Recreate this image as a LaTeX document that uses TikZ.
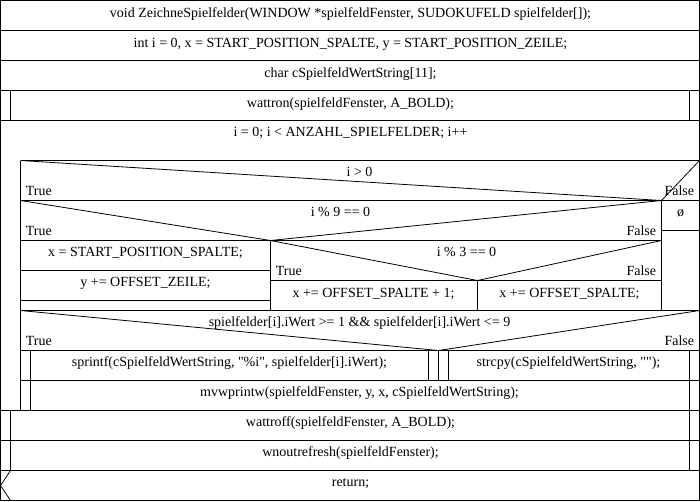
\documentclass[tikz,border=0pt]{standalone}
\usepackage{fontspec}
\setmainfont{Liberation Serif}
\begin{document}
\begin{tikzpicture}[x=1pt,y=-1pt,line width=0.8pt,
  every node/.style={font=\fontsize{14}{16}\selectfont,inner sep=0pt,anchor=base}]
  \useasboundingbox (-0.5,-0.5) rectangle (699.5,500.5);
  \draw (0,0) rectangle (699,500); % 外枠

  % 先頭の文
  \draw (0,30) -- (699,30);
  \draw (0,60) -- (699,60);
  \draw (0,90) -- (699,90);
  \draw (0,120) -- (699,120);
  \draw (10,90) -- (10,120);
  \draw (689,90) -- (689,120);
  \node at (350,17) {void ZeichneSpielfelder(WINDOW *spielfeldFenster, SUDOKUFELD spielfelder[]);};
  \node at (350,47) {int i = 0, x = START\_POSITION\_SPALTE, y = START\_POSITION\_ZEILE;};
  \node at (350,77) {char cSpielfeldWertString[11];};
  \node at (350,107) {wattron(spielfeldFenster, A\_BOLD);};

  % ループ
  \draw (20,160) -- (699,160);
  \draw (20,160) -- (20,410);
  \draw (0,410) -- (699,410);
  \node at (350,136) {i = 0; i < ANZAHL\_SPIELFELDER; i++};

  % i > 0
  \draw (20,160) -- (661,200) -- (699,160);
  \draw (20,200) -- (699,200);
  \draw (661,200) -- (661,310);
  \draw (661,230) -- (699,230);
  \node at (359,176) {i > 0};
  \node [anchor=base west] at (25,195) {True};
  \node [anchor=base east] at (694,195) {False};
  \node at (680,216) {ø};

  % i % 9 == 0
  \draw (20,200) -- (270,240) -- (661,200);
  \draw (20,240) -- (661,240);
  \draw (270,240) -- (270,310);
  \draw (20,270) -- (270,270);
  \draw (20,300) -- (270,300);
  \node at (340,216) {i \% 9 == 0};
  \node [anchor=base west] at (25,235) {True};
  \node [anchor=base east] at (656,235) {False};
  \node at (145,256) {x = START\_POSITION\_SPALTE;};
  \node at (145,286) {y += OFFSET\_ZEILE;};

  % i % 3 == 0
  \draw (270,240) -- (477,280) -- (661,240);
  \draw (270,280) -- (661,280);
  \draw (477,280) -- (477,310);
  \node at (466,256) {i \% 3 == 0};
  \node [anchor=base west] at (275,275) {True};
  \node [anchor=base east] at (656,275) {False};
  \node at (373,297) {x += OFFSET\_SPALTE + 1;};
  \node at (569,297) {x += OFFSET\_SPALTE;};

  % iWert
  \draw (20,310) -- (699,310);
  \draw (20,310) -- (438,350) -- (699,310);
  \draw (20,350) -- (699,350);
  \draw (20,380) -- (699,380);
  \draw (30,350) -- (30,410);
  \draw (689,350) -- (689,410);
  \draw (428,350) -- (428,380);
  \draw (438,350) -- (438,380);
  \draw (448,350) -- (448,380);
  \node at (359,326) {spielfelder[i].iWert >= 1 \&\& spielfelder[i].iWert <= 9};
  \node [anchor=base west] at (25,345) {True};
  \node [anchor=base east] at (694,345) {False};
  \node at (229,366) {sprintf(cSpielfeldWertString, \textquotedbl\%i\textquotedbl, spielfelder[i].iWert);};
  \node at (568,366) {strcpy(cSpielfeldWertString, \textquotedbl\textquotedbl);};
  \node at (359,396) {mvwprintw(spielfeldFenster, y, x, cSpielfeldWertString);};

  % 後の文
  \draw (0,440) -- (699,440);
  \draw (0,470) -- (699,470);
  \draw (10,410) -- (10,470);
  \draw (689,410) -- (689,470);
  \draw (10,470) -- (0,485) -- (10,500);
  \node at (350,426) {wattroff(spielfeldFenster, A\_BOLD);};
  \node at (350,456) {wnoutrefresh(spielfeldFenster);};
  \node at (350,486) {return;};
\end{tikzpicture}
\end{document}
